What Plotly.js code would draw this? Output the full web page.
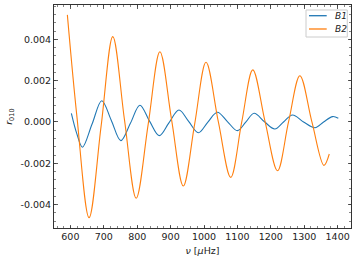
<!DOCTYPE html>
<html>
<head>
<meta charset="utf-8">
<script src="https://cdn.plot.ly/plotly-3.0.1.min.js"></script>
<style>html,body{margin:0;padding:0;background:#fff;}#chart{width:358px;height:261px;}</style>
</head>
<body>
<div id="chart"></div>
<script>
// B1 series (nu in microHz, r010)
const b1Nu = [603, 619, 636, 665, 694, 722, 751, 780, 808, 837, 866, 895, 925, 954, 983, 1011, 1040, 1070, 1100, 1125, 1150, 1181, 1212, 1238, 1265, 1298, 1332, 1358, 1385, 1402];
const b1R  = [0.00042, -0.00055, -0.00122, -0.0001, 0.00103, 0.0001, -0.0009, -0.00005, 0.00081, 0.00004, -0.00066, -0.00004, 0.00058, 0.00003, -0.00052, -0.00002, 0.00047, 0.00002, -0.00042, -0.00001, 0.00042, 0.00001, -0.00034, 0.0, 0.00034, 0.0, -0.00028, 0.0, 0.00026, 0.00018];
// B2 series
const b2Nu = [591, 620, 656, 692, 727, 762, 797, 833, 868, 903, 938, 972, 1006, 1043, 1080, 1113, 1146, 1183, 1220, 1253, 1287, 1323, 1359, 1375];
const b2R  = [0.00518, 0.0002, -0.00463, -0.0002, 0.00413, 0.0001, -0.00369, -0.0001, 0.0034, 0.0001, -0.0031, -0.0001, 0.00289, 0.0, -0.00268, 0.0, 0.00252, 0.0, -0.00236, 0.0, 0.00224, 0.0, -0.0021, -0.00155];
const seriesNames = ['B1', 'B2'];
const seriesColors = ['#1f77b4', '#ff7f0e'];
const yTickVals = [-0.004, -0.002, 0, 0.002, 0.004];
const yTickText = ['-0.004', '-0.002', '0.000', '0.002', '0.004'];
const xTickVals = [600, 700, 800, 900, 1000, 1100, 1200, 1300, 1400];

const font = {family: 'DejaVu Sans', size: 9.5, color: '#222'};
const axisCommon = {
  showline: true, mirror: 'allticks', linecolor: '#333', linewidth: 1,
  ticks: 'inside', ticklen: 3.5, tickwidth: 0.8, tickcolor: '#333',
  showgrid: false, zeroline: false, tickfont: font
};
const data = [
  {x: b1Nu, y: b1R, name: seriesNames[0], mode: 'lines', line: {color: seriesColors[0], width: 1.1, shape: 'spline', smoothing: 1}},
  {x: b2Nu, y: b2R, name: seriesNames[1], mode: 'lines', line: {color: seriesColors[1], width: 1.1, shape: 'spline', smoothing: 1}}
];

// legend drawn as a matplotlib-style box (paper coordinates)
const legBox = {x0: 0.8485, x1: 0.9875, y0: 0.8565, y1: 0.9776};
const legRowsY = [0.952, 0.8924];
const shapes = [{type: 'rect', xref: 'paper', yref: 'paper', x0: legBox.x0, x1: legBox.x1, y0: legBox.y0, y1: legBox.y1,
  line: {color: '#cccccc', width: 1}, fillcolor: 'rgba(255,255,255,0.8)', layer: 'above'}];
const annotations = [];
seriesNames.forEach((n, i) => {
  shapes.push({type: 'line', xref: 'paper', yref: 'paper', x0: 0.8586, x1: 0.9182, y0: legRowsY[i], y1: legRowsY[i],
    line: {color: seriesColors[i], width: 1.3}, layer: 'above'});
  annotations.push({xref: 'paper', yref: 'paper', x: 0.9384, y: legRowsY[i], xanchor: 'left', yanchor: 'middle',
    text: '<i>' + n + '</i>', showarrow: false, font: {family: 'DejaVu Sans', size: 9, color: '#222'}});
});

const layout = {
  width: 358, height: 261,
  margin: {l: 54, r: 7, t: 5, b: 33},
  paper_bgcolor: '#fff', plot_bgcolor: '#fff',
  font: font,
  showlegend: false,
  shapes: shapes,
  annotations: annotations,
  xaxis: Object.assign({}, axisCommon, {
    range: [551, 1440], tickmode: 'array', tickvals: xTickVals, ticktext: xTickVals.map(String),
    minor: {dtick: 20, tick0: 0, ticks: 'inside', ticklen: 2, tickcolor: '#333', tickwidth: 0.6},
    title: {text: '<i>ν</i> [<i>μ</i>Hz]', font: font, standoff: 5}
  }),
  yaxis: Object.assign({}, axisCommon, {
    range: [-0.00513, 0.00566], tickmode: 'array', tickvals: yTickVals, ticktext: yTickText,
    minor: {dtick: 0.0004, tick0: 0, ticks: 'inside', ticklen: 2, tickcolor: '#333', tickwidth: 0.6},
    title: {text: '<i>r</i><sub>010</sub>', font: font, standoff: 6}
  })
};
Plotly.newPlot('chart', data, layout, {displayModeBar: false, staticPlot: true});
</script>
</body>
</html>
